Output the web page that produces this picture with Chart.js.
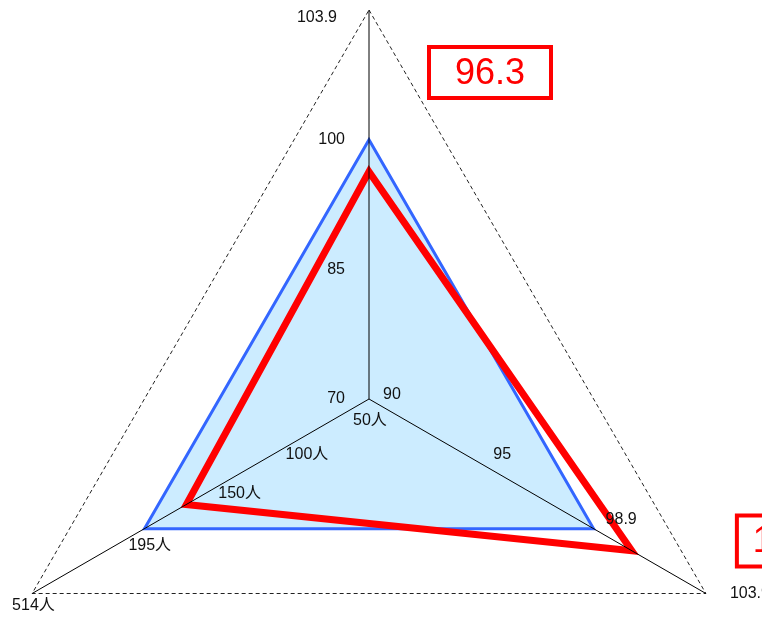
<!DOCTYPE html>
<html>
<head>
<meta charset="utf-8">
<script src="https://cdn.jsdelivr.net/npm/chart.js@4"></script>
<style>
  html, body { margin: 0; padding: 0; background: #fff; overflow: hidden; }
  #wrap { width: 762px; height: 617px; }
</style>
</head>
<body>
<div id="wrap"><canvas id="myChart" width="762" height="617"></canvas></div>
<script>
// three axes: top, bottom-right, bottom-left
const axisNames = ['top', 'right', 'left'];

// tick values on each axis (center -> outer)
const topTicks = [70, 85, 100, 103.9];
const rightTicks = [90, 95, 98.9, 103.9];
const leftTicks = [50, 100, 150, 195, 514];
const leftUnit = '人';

// where each tick sits along its axis (0 = center, 1 = outer)
const topTickFrac = [0, 1 / 3, 2 / 3, 1];
const rightTickFrac = [0, 1 / 3, 2 / 3, 1];
const leftTickFrac = [0, 0.2, 0.4, 2 / 3, 1];

// series
const standardValues = [100, 98.9, 195];
const resultValues = [96.3, 100.6, 174];
const resultLabels = ['96.3', '100.6', null];

const ticksByAxis = [topTicks, rightTicks, leftTicks];
const fracByAxis = [topTickFrac, rightTickFrac, leftTickFrac];

// piecewise mapping of a value onto its axis
function toFrac(axis, v) {
  const t = ticksByAxis[axis], f = fracByAxis[axis];
  for (let i = 0; i < t.length - 1; i++) {
    if (v <= t[i + 1] || i == t.length - 2) {
      return f[i] + (v - t[i]) / (t[i + 1] - t[i]) * (f[i + 1] - f[i]);
    }
  }
}

const FONT = '"Liberation Sans", "Noto Sans CJK JP", sans-serif';

const labelsPlugin = {
  id: 'axisLabels',
  afterDraw(chart) {
    const scale = chart.scales.r;
    const ctx = chart.ctx;
    ctx.save();
    ctx.font = '16px ' + FONT;
    ctx.fillStyle = '#111';
    ctx.textBaseline = 'middle';
    for (let a = 0; a < 3; a++) {
      const t = ticksByAxis[a];
      for (let i = 0; i < t.length; i++) {
        const last = i == t.length - 1;
        const p = scale.getPointPosition(a, scale.getDistanceFromCenterForValue(fracByAxis[a][i]));
        let txt = String(t[i]);
        if (a == 0) {
          ctx.textAlign = 'right';
          if (last) ctx.fillText(txt, p.x - 32, p.y + 8);
          else ctx.fillText(txt, p.x - 24, p.y);
        } else if (a == 1) {
          ctx.textAlign = 'left';
          if (last) ctx.fillText(txt, p.x + 24, p.y);
          else if (i == 0) ctx.fillText(txt, p.x + 14, p.y - 4);
          else ctx.fillText(txt, p.x + 12, p.y - 9);
        } else {
          txt += leftUnit;
          ctx.textAlign = 'left';
          if (last) ctx.fillText(txt, p.x - 20, p.y + 12);
          else if (i == 0) ctx.fillText(txt, p.x - 16, p.y + 22);
          else ctx.fillText(txt, p.x - 16, p.y + 17);
        }
      }
    }
    // result value boxes near the outer corners
    const boxOffsets = [[58, 35], [29, -80], null];
    ctx.strokeStyle = 'red';
    ctx.lineWidth = 4;
    ctx.fillStyle = 'red';
    ctx.font = '36px ' + FONT;
    ctx.textAlign = 'center';
    for (let a = 0; a < 3; a++) {
      if (!resultLabels[a] || !boxOffsets[a]) continue;
      const o = scale.getPointPosition(a, scale.drawingArea);
      const x = o.x + boxOffsets[a][0], y = o.y + boxOffsets[a][1];
      ctx.strokeRect(x + 2, y + 2, 122, 51);
      ctx.fillText(resultLabels[a], x + 63, y + 29);
    }
    ctx.restore();
  }
};

const data = {
  labels: axisNames,
  datasets: [{
    label: 'result',
    data: resultValues.map((v, i) => toFrac(i, v)),
    borderColor: 'rgb(255, 0, 0)',
    borderWidth: 7,
    borderJoinStyle: 'miter',
    fill: false,
    pointRadius: 0
  }, {
    label: 'standard',
    data: standardValues.map((v, i) => toFrac(i, v)),
    borderColor: 'rgb(51, 102, 255)',
    backgroundColor: 'rgb(204, 236, 255)',
    borderWidth: 3,
    borderJoinStyle: 'miter',
    fill: true,
    pointRadius: 0
  }]
};

const config = {
  type: 'radar',
  data: data,
  options: {
    responsive: false,
    animation: false,
    events: [],
    layout: { padding: 0 },
    plugins: { legend: { display: false }, tooltip: { enabled: false } },
    scales: {
      r: {
        min: 0,
        max: 1,
        ticks: { display: false, stepSize: 1, z: 1 },
        pointLabels: { display: false },
        angleLines: { display: true, color: '#000', lineWidth: 1 },
        // z > 0 so the axis lines are drawn over the polygons
        grid: { circular: false, color: '#222', lineWidth: 1, borderDash: [4, 3], z: 1 },
        border: { dash: [4, 3] },
        afterFit: function (scale) {
          scale.xCenter = 369;
          scale.yCenter = 399;
          scale.drawingArea = 389;
        }
      }
    }
  },
  plugins: [labelsPlugin]
};

const myChart = new Chart(document.getElementById('myChart'), config);
</script>
</body>
</html>
